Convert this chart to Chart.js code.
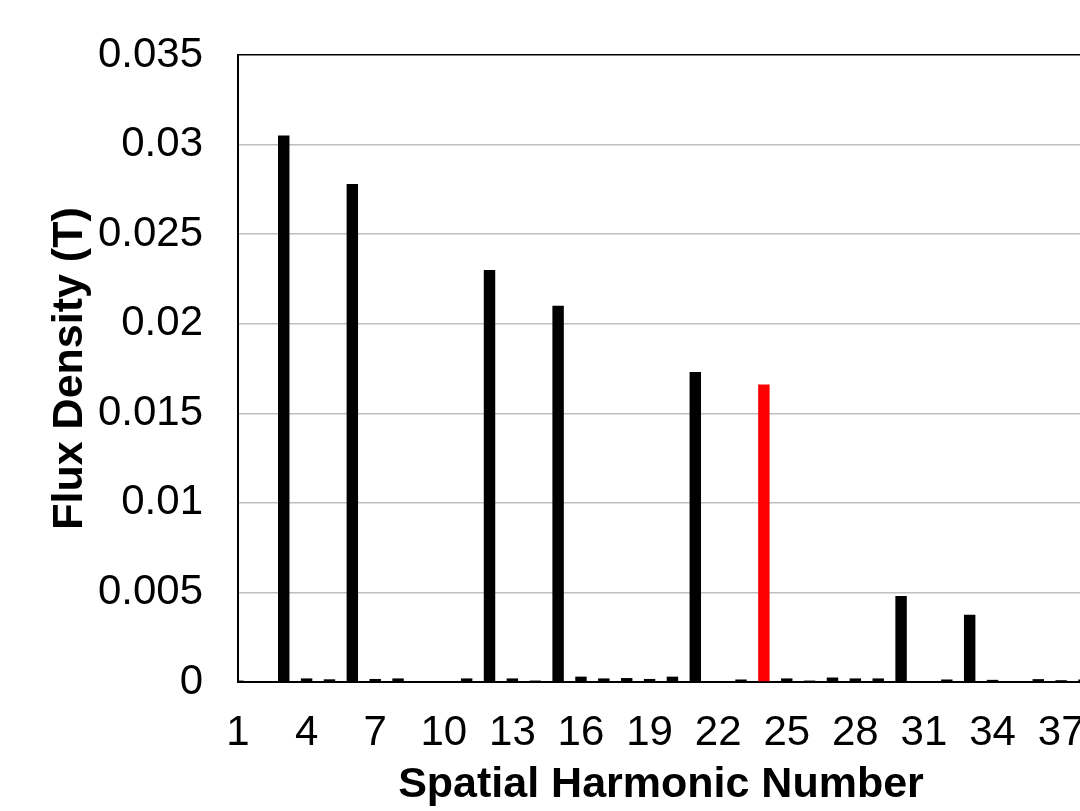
<!DOCTYPE html>
<html>
<head>
<meta charset="utf-8">
<script src="https://cdn.jsdelivr.net/npm/chart.js@4"></script>
<style>
  html, body { margin: 0; padding: 0; background: #fff; overflow: hidden; }
  #wrap { position: absolute; left: 0; top: 0; }
</style>
</head>
<body>
<div id="wrap"><canvas id="harmonicChart" width="1110" height="811"></canvas></div>
<script>
// Spatial harmonic orders (x categories)
const harmonics = [1, 2, 3, 4, 5, 6, 7, 8, 9, 10, 11, 12, 13, 14, 15, 16, 17, 18, 19,
    20, 21, 22, 23, 24, 25, 26, 27, 28, 29, 30, 31, 32, 33, 34, 35, 36, 37, 38];

// Flux density amplitude per harmonic (T)
const fluxDensity = [0.00008, 0.00004, 0.0305, 0.0002, 0.00015, 0.0278, 0.00017, 0.0002,
    0.00005, 0.00005, 0.0002, 0.0230, 0.0002, 0.00008, 0.0210, 0.0003, 0.0002, 0.00022,
    0.00017, 0.0003, 0.0173, 0.00005, 0.00014, 0.0166, 0.0002, 0.00008, 0.00025, 0.0002,
    0.0002, 0.0048, 0.00005, 0.00014, 0.00375, 0.00012, 0.00005, 0.00016, 0.0001, 0.00014];

// Harmonic drawn in red
const highlightHarmonic = 24;

// y axis ticks
const yTicks = [0, 0.005, 0.01, 0.015, 0.02, 0.025, 0.03, 0.035];

document.addEventListener('DOMContentLoaded', () => {
    const ctx = document.getElementById('harmonicChart').getContext('2d');
    const barColors = harmonics.map(h => h === highlightHarmonic ? '#ff0000' : '#000000');
    const yMax = yTicks[yTicks.length - 1];

    new Chart(ctx, {
        type: 'bar',
        data: {
            labels: harmonics,
            datasets: [{
                data: fluxDensity,
                backgroundColor: barColors,
                borderWidth: 0,
                categoryPercentage: 0.5,
                barPercentage: 1.0
            }]
        },
        options: {
            responsive: false,
            animation: false,
            layout: { padding: { top: 55, right: 2, left: 0, bottom: 0 } },
            plugins: {
                legend: { display: false },
                tooltip: { enabled: false }
            },
            scales: {
                x: {
                    offset: false,
                    grid: { display: false, drawTicks: false },
                    border: { display: true, color: '#000', width: 2 },
                    ticks: {
                        autoSkip: false,
                        maxRotation: 0,
                        minRotation: 0,
                        padding: 26,
                        color: '#000',
                        font: { family: 'Liberation Sans', size: 42 },
                        callback: function (value, index) {
                            return index % 3 === 0 ? String(harmonics[index]) : '';
                        }
                    },
                    title: {
                        display: true,
                        text: 'Spatial Harmonic Number',
                        color: '#000',
                        font: { family: 'Liberation Sans', size: 43, weight: 'bold' },
                        padding: { top: 0, bottom: 0 }
                    },
                    afterFit: (scale) => { scale.height = 129; }
                },
                y: {
                    min: 0,
                    max: yMax,
                    grid: {
                        drawTicks: true,
                        tickLength: 32,
                        tickColor: 'rgba(0,0,0,0)',
                        lineWidth: 1.5,
                        color: (c) => (c.tick && Math.abs(c.tick.value - yMax) < 1e-9) ? '#000' : '#bfbfbf'
                    },
                    border: { display: true, color: '#000', width: 2 },
                    afterBuildTicks: (scale) => { scale.ticks = yTicks.map(v => ({ value: v })); },
                    ticks: {
                        padding: 3,
                        color: '#000',
                        font: { family: 'Liberation Sans', size: 42 },
                        callback: (v) => String(+Number(v).toFixed(3))
                    },
                    title: {
                        display: true,
                        text: 'Flux Density (T)',
                        color: '#000',
                        font: { family: 'Liberation Sans', size: 43, weight: 'bold' },
                        padding: { top: 44, bottom: 0 }
                    },
                    afterFit: (scale) => { scale.width = 238; }
                }
            }
        }
    });
});
</script>
</body>
</html>
